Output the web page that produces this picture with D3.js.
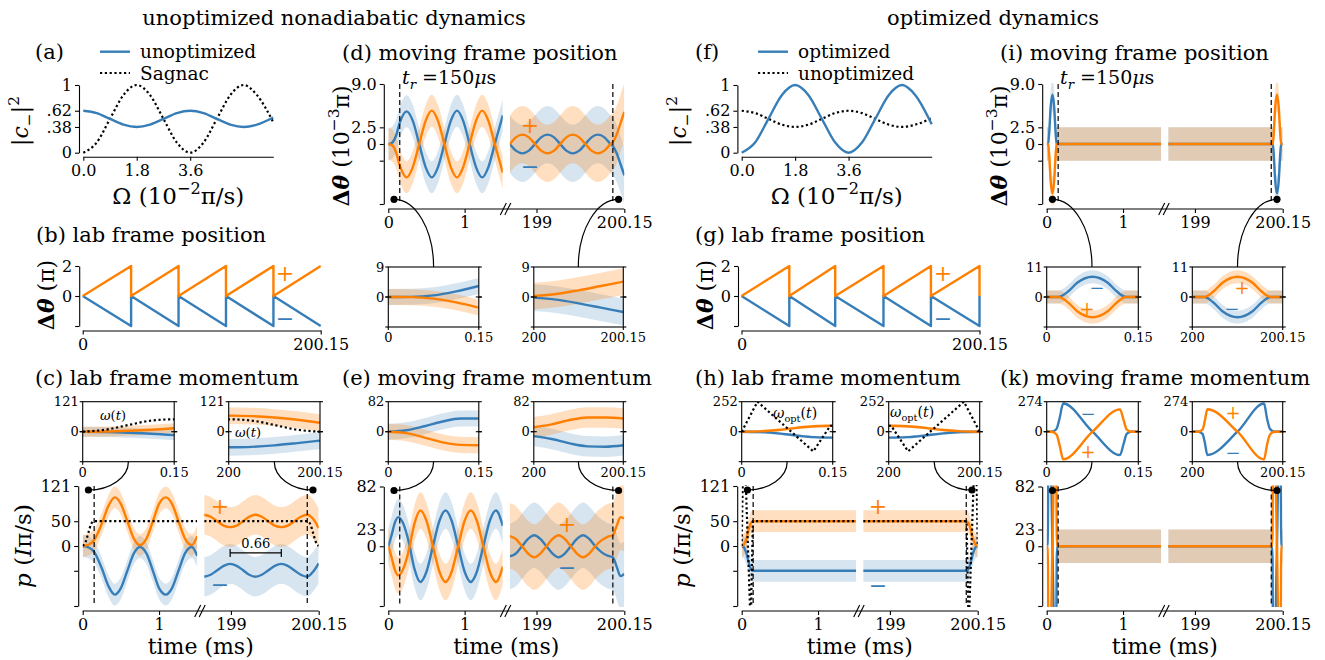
<!DOCTYPE html>
<html><head><meta charset="utf-8">
<script src="https://cdn.jsdelivr.net/npm/d3@7"></script>
<style>body{margin:0;background:#fff}svg{display:block}</style>
</head><body><script>
// ================= DATA =================
// (a) and (f): |c_-|^2 versus Omega (10^-2 pi/s)
const omegaGrid = [0,0.45,0.9,1.35,1.8,2.25,2.7,3.15,3.6,4.05,4.5,4.95,5.4,5.85,6.4];
const unoptA = [0.62,0.585,0.5,0.415,0.38,0.415,0.5,0.585,0.62,0.585,0.5,0.415,0.38,0.415,0.52];
const sagnacA = [0,0.15,0.5,0.85,1,0.85,0.5,0.15,0,0.15,0.5,0.85,1,0.85,0.45];
const optF = [0,0.15,0.5,0.85,1,0.85,0.5,0.15,0,0.15,0.5,0.85,1,0.85,0.42];
const unoptF = [0.62,0.585,0.5,0.415,0.38,0.415,0.5,0.585,0.62,0.585,0.5,0.415,0.38,0.415,0.51];
const omegaTicks = [0,1.8,3.6], omegaTickLabels = ["0.0","1.8","3.6"];
const probTicks = [1,0.62,0.38,0], probTickLabels = ["1",".62",".38","0"];

// (b) and (g): lab frame position (pi)
const labT = [0,40.7,40.7,80.6,80.6,120.5,120.5,160.4,160.4,200.15];
const labPlus = [0,2,0,2,0,2,0,2,0,2];
const labMinus = [0,-2,0,-2,0,-2,0,-2,0,-2];
const labTG = [0,40.2,40.2,78.8,78.8,119.4,119.4,159.3,159.3,200.15,200.15];
const labPlusG = [0,2,0,2,0,2,0,2,0,2,0];
const labMinusG = [0,-2,0,-2,0,-2,0,-2,0,-2,0];
const labTicks = [0,200.15], labTickLabels = ["0","200.15"];
const labYTicks = [2,0,-2], labYTickLabels = ["2","0",""];

// broken time axis (ms)
const mainTicksL = [0,1], mainTickLabelsL = ["0","1"];
const mainTicksR = [199,200.15], mainTickLabelsR = ["199","200.15"];

// (c) lab frame momentum (I pi/s)
const tC_L = [0,0.08,0.15,0.25,0.335,0.42,0.5,0.585,0.67,0.75,0.835,0.92,1.0,1.09,1.17,1.255,1.34,1.43,1.5];
const plusC_L = [0,3,12,45,80,98,85,50,15,2,15,50,85,98,85,50,15,2,20];
const minusC_L = [0,-3,-12,-45,-80,-98,-85,-50,-15,-2,-15,-50,-85,-98,-85,-50,-15,-2,-20];
const tC_R = [198.65,198.735,198.82,198.905,198.99,199.075,199.16,199.24,199.32,199.405,199.49,199.575,199.66,199.745,199.83,199.915,200.0,200.075,200.15];
const plusC_R = [63,59,50,41,38,41,50,59,63,59,50,41,38,41,50,59,63,55,36];
const minusC_R = [-62,-58,-49,-40,-36,-40,-49,-58,-62,-58,-49,-40,-36,-40,-49,-58,-62,-52,-35];
const tOmegaC_L = [0,0.0375,0.075,0.1125,0.15,1.5], omegaC_L = [0,8,27,45,50,50];
const tOmegaC_R = [198.65,200,200.0375,200.075,200.1125,200.15], omegaC_R = [50,50,45,27,8,0];
const spreadC = [22,40];
const tCin_L = [0,0.0375,0.075,0.1125,0.15], plusCin_L = [0,1,4,8,14], minusCin_L = [0,-1,-4,-8,-14];
const tCin_R = [200,200.0375,200.075,200.1125,200.15], plusCin_R = [65,63,57,48,36], minusCin_R = [-63,-61,-55,-46,-36];
const spreadCin = [20,34];
const momTicks = [121,50,0,-50,-121], momTickLabels = ["121","50","0","",""];

// (d) moving frame position (10^-3 pi)
const tD_L = [0,0.05,0.1,0.15,0.24,0.32,0.405,0.49,0.57,0.65,0.735,0.82,0.9,0.98,1.065,1.15,1.23,1.31,1.395,1.5];
const minusD_L = [0,0.2,1.2,3.2,4.9,3.5,0,-3.5,-5,-3.5,0,3.5,5,3.5,0,-3.5,-5,-3.5,0,4.3];
const plusD_L = [0,-0.2,-1.2,-3.2,-5.0,-3.5,0,3.5,5,3.5,0,-3.5,-5,-3.5,0,3.5,5,3.5,0,-4.3];
const tD_R = [198.65,198.73,198.815,198.9,198.98,199.06,199.145,199.23,199.31,199.39,199.475,199.56,199.64,199.72,199.805,199.89,199.97,200.0,200.05,200.1,200.15];
const plusD_R = [0,1.0,1.4,1.0,0,-1.0,-1.4,-1.0,0,1.0,1.4,1.0,0,-1.0,-1.4,-1.0,0,0.3,1.4,3.1,4.8];
const minusD_R = [0,-1.0,-1.4,-1.0,0,1.0,1.4,1.0,0,-1.0,-1.4,-1.0,0,1.0,1.4,1.0,0,-0.3,-1.4,-3.0,-4.7];
const spreadD = [2.4,4.3];
const tDin_L = [0,0.0375,0.075,0.1125,0.15], plusDin_L = [0,-0.05,-0.5,-1.6,-3.2], minusDin_L = [0,0.05,0.5,1.7,3.3];
const tDin_R = [200,200.0375,200.075,200.1125,200.15], plusDin_R = [0.3,0.9,2.0,3.3,4.6], minusDin_R = [-0.2,-0.8,-1.9,-3.2,-4.5];
const spreadDin = [2.4,4.0];
const posTicks = [9,2.5,0,-2.5,-9], posTickLabels = ["9.0","2.5","0","",""];

// (e) moving frame momentum
const tE_L = [0,0.04,0.085,0.13,0.2,0.27,0.34,0.42,0.5,0.585,0.67,0.75,0.83,0.915,1.0,1.08,1.16,1.245,1.33,1.41,1.5];
const minusE_L = [0,14,32,40,30,5,-30,-49,-35,0,35,49,35,0,-35,-49,-35,0,35,49,28];
const plusE_L = [0,-14,-32,-40,-30,-5,30,49,35,0,-35,-49,-35,0,35,49,35,0,-35,-49,-28];
const tE_R = [198.65,198.73,198.81,198.89,198.97,199.05,199.13,199.21,199.29,199.37,199.45,199.53,199.61,199.69,199.77,199.85,199.93,200.0,200.05,200.1,200.15];
const minusE_R = [-14,-10,0,10,15,10,0,-10,-15,-10,0,10,15,10,0,-8,-13,-15,-28,-41,-38];
const plusE_R = [14,10,0,-10,-15,-10,0,10,15,10,0,-10,-15,-10,0,8,13,15,28,40,38];
const spreadE = [25,45];
const tEin_L = [0,0.03,0.06,0.09,0.12,0.15], minusEin_L = [0,4,15,28,36,36], plusEin_L = [0,-4,-16,-29,-36,-37];
const tEin_R = [200,200.03,200.06,200.09,200.12,200.15], plusEin_R = [12,20,32,39,39,36], minusEin_R = [-12,-20,-32,-40,-41,-37];
const spreadEin = [22,28];
const vmomTicks = [82,23,0,-23,-82], vmomTickLabels = ["82","23","0","",""];

// (h) optimized lab frame momentum
const tHin_L = [0,0.03,0.06,0.09,0.12,0.15], plusHin_L = [0,3,14,32,46,50], minusHin_L = [0,-3,-14,-32,-46,-50];
const tHin_R = [200,200.03,200.06,200.09,200.12,200.15], plusHin_R = [50,46,32,14,3,0], minusHin_R = [-50,-46,-32,-14,-3,0];
const tOmegaH_L = [0,0.026,0.118,0.146,0.15], omegaH_L = [0,252,-165,50,50];
const tOmegaH_R = [200,200.004,200.032,200.124,200.15], omegaH_R = [50,50,-165,252,0];
const plateauH = [50,-50];
const spreadH = [22,22], spreadHin = [12,12];

// (i) optimized moving frame position
const tIin_L = [0,0.019,0.035,0.05,0.075,0.1,0.115,0.13,0.15];
const minusIin_L = [0,0,2,5.2,7.4,5.2,2,0,0], plusIin_L = [0,0,-2,-5.2,-7.4,-5.2,-2,0,0];
const tIin_R = [200,200.02,200.035,200.05,200.075,200.1,200.115,200.13,200.15];
const plusIin_R = [0,0,2,5.2,7.4,5.2,2,0,0], minusIin_R = [0,0,-2,-5.2,-7.4,-5.2,-2,0,0];
const plateauI = [0,0];
const spreadI = [2.5,2.5];

// (k) optimized moving frame momentum
const tKin_L = [0,0.008,0.016,0.021,0.027,0.075,0.12,0.126,0.131,0.138,0.15];
const minusKin_L = [0,0,25,120,257,0,-213,-110,-20,0,0];
const plusKin_L = [0,0,-25,-120,-252,0,204,105,20,0,0];
const tKin_R = [200,200.01,200.017,200.021,200.025,200.075,200.119,200.124,200.129,200.137,200.15];
const plusKin_R = [0,0,20,105,205,0,-252,-120,-25,0,0];
const minusKin_R = [0,0,-20,-105,-213,0,257,120,25,0,0];
const plateauK = [0,0];
const spreadK = [23,23], spreadKin = [10,10];

// ================= DRAWING =================
const BLUE = "#377eb8", ORANGE = "#ff7f00";
const FONT = "DejaVu Serif";
const svg = d3.select("body").append("svg").attr("width",1325).attr("height",660).attr("font-family",FONT);
svg.append("rect").attr("width",1325).attr("height",660).attr("fill","#fff");
const pairs = (t,v) => t.map((d,i)=>[d,v[i]]);
let clipN = 0;
function clip(x,y,w,h){const id="clp"+(clipN++);svg.append("clipPath").attr("id",id).append("rect").attr("x",x).attr("y",y).attr("width",w).attr("height",h);return `url(#${id})`;}

function drawSeries(g,xs,y,list){
  list.forEach(s=>{ if(s.spread>0){
    g.append("path").attr("d",d3.area().curve(s.curve||d3.curveMonotoneX).x(d=>xs(d[0])).y0(d=>y(d[1]-s.spread)).y1(d=>y(d[1]+s.spread))(s.data))
     .attr("fill",s.color).attr("fill-opacity",s.color===BLUE?0.2:0.25);
  }});
  list.forEach(s=>{
    g.append("path").attr("d",d3.line().curve(s.curve||d3.curveMonotoneX).x(d=>xs(d[0])).y(d=>y(d[1]))(s.data))
     .attr("fill","none").attr("stroke",s.dotted?"#000":s.color).attr("stroke-width",s.dotted?2.2:2.4)
     .attr("stroke-dasharray",s.dotted?"2.2,2.6":null).attr("stroke-linejoin","round");
  });
}
function styleAxis(g,size){
  g.attr("font-family",null).attr("font-size",null);
  g.selectAll("text").attr("font-family",FONT).attr("font-size",size).attr("fill","#000");
  g.selectAll("line,path").attr("stroke","#000").attr("stroke-width",1.1);
}
function leftAxis(x,y,ticks,labels,size){
  const g=svg.append("g").attr("transform",`translate(${x},0)`)
    .call(d3.axisLeft(y).tickValues(ticks).tickFormat((d,i)=>labels[i]).tickSize(4).tickSizeOuter(0).tickPadding(3));
  styleAxis(g,size);
}
function bottomAxis(yPos,x,ticks,labels,size,domain){
  const g=svg.append("g").attr("transform",`translate(0,${yPos})`)
    .call(d3.axisBottom(x).tickValues(ticks).tickFormat((d,i)=>labels[i]).tickSize(4).tickSizeOuter(0).tickPadding(4));
  styleAxis(g,size);
  if(!domain) g.select(".domain").remove();
}
function rich(t,parts,size){
  let cur=0;
  parts.forEach(p=>{
    const small=p.sub||p.sup;
    const target=p.sub?size*0.25:(p.sup?-size*0.42:0);
    const ts=t.append("tspan").attr("font-size",small?size*0.7:size).text(p.s);
    if(target!==cur){ts.attr("dy",target-cur);cur=target;}
    if(p.it) ts.attr("font-style","italic");
    if(p.b) ts.attr("font-weight","bold");
  });
  return t;
}
function text(x,y,str,size,anchor,color){
  return svg.append("text").attr("x",x).attr("y",y).attr("font-size",size).attr("text-anchor",anchor||"start").attr("fill",color||"#000").text(str);
}
function ylabel(cx,cy,size,parts){
  const t=svg.append("text").attr("transform",`translate(${cx},${cy}) rotate(-90)`).attr("text-anchor","middle").attr("font-size",size).attr("dy","0.35em");
  rich(t,parts,size);
}
function sign(x,y,s,color,size){ text(x,y,s,size||22,"middle",color).attr("dominant-baseline","central"); }
function connector(p,q){
  const c1=[p[0]+0.55*(q[0]-p[0]),p[1]], c2=[q[0],q[1]-0.55*(q[1]-p[1])];
  svg.append("path").attr("d",`M${p[0]},${p[1]}C${c1[0]},${c1[1]} ${c2[0]},${c2[1]} ${q[0]},${q[1]}`).attr("fill","none").attr("stroke","#000").attr("stroke-width",1.2);
}

// ---- (a)/(f) spectrum panels
function spectrumPanel(x0,solid,dotted){
  const x=d3.scaleLinear().domain([0,6.4]).range([x0,x0+190]);
  const y=d3.scaleLinear().domain([0,1]).range([152.7,85]);
  const g=svg.append("g");
  drawSeries(g,x,y,[{data:pairs(omegaGrid,dotted),dotted:true,spread:0},{data:pairs(omegaGrid,solid),color:BLUE,spread:0}]);
  leftAxis(x0-4.3,y,probTicks,probTickLabels,16);
  bottomAxis(156.7,x,omegaTicks,omegaTickLabels,16,true);
  const t=svg.append("text").attr("x",x0+95).attr("y",204).attr("text-anchor","middle").attr("font-size",23);
  rich(t,[{s:"Ω (10"},{s:"−2",sup:true},{s:"π/s)"}],23);
  ylabel(x0-63,121,22,[{s:"|"},{s:"c",it:true},{s:"−",sub:true},{s:"|"},{s:"2",sup:true}]);
}
// ---- (b)/(g) lab frame position
function labPanel(x0,t,plus,minus){
  const x=d3.scaleLinear().domain([0,200.15]).range([x0,x0+238]);
  const y=d3.scaleLinear().domain([-2,2]).range([326,266]);
  const g=svg.append("g");
  drawSeries(g,x,y,[{data:pairs(t,minus),color:BLUE,spread:0,curve:d3.curveLinear},{data:pairs(t,plus),color:ORANGE,spread:0,curve:d3.curveLinear}]);
  leftAxis(x0-3.5,y,labYTicks,labYTickLabels,16);
  bottomAxis(330.5,x,labTicks,labTickLabels,16,true);
  ylabel(x0-36,295,22,[{s:"Δ",b:true},{s:"θ",it:true,b:true},{s:" (π)"}]);
}
// ---- broken-axis main panel
function brokenPanel(o){
  const xL=d3.scaleLinear().domain([0,1.5]).range([o.x0,o.x0+114.5]);
  const xR=d3.scaleLinear().domain([198.65,200.15]).range([o.x0+121.5,o.x0+236]);
  const y=d3.scaleLinear().domain(o.yDom).range([o.yBot,o.yTop]);
  [[xL,"L"],[xR,"R"]].forEach(([xs,k])=>{
    const r=xs.range();
    const g=svg.append("g").attr("clip-path",clip(r[0],o.yTop-1,r[1]-r[0],o.yBot-o.yTop+2));
    drawSeries(g,xs,y,o.series.map(s=>({data:s[k],color:s.color,spread:s.spread?s.spread[k==="L"?0:1]:0,dotted:s.dotted,curve:s.curve})));
  });
  [[xL,0.15],[xR,200]].forEach(([xs,tt])=>{
    svg.append("line").attr("x1",xs(tt)).attr("x2",xs(tt)).attr("y1",o.yTop).attr("y2",o.yBot)
      .attr("stroke","#000").attr("stroke-width",1.2).attr("stroke-dasharray","5,3");
  });
  leftAxis(o.x0-4.5,y,o.yTicks,o.yTickLabels,16);
  const ya=o.yBot+5;
  bottomAxis(ya,xL,mainTicksL,mainTickLabelsL,16,false);
  bottomAxis(ya,xR,mainTicksR,mainTickLabelsR,16,false);
  svg.append("line").attr("x1",o.x0).attr("x2",o.x0+236).attr("y1",ya).attr("y2",ya).attr("stroke","#000").attr("stroke-width",1.1);
  const cx=o.x0+118;
  [-3,1.5].forEach(d=>svg.append("line").attr("x1",cx+d-3).attr("y1",ya+6).attr("x2",cx+d+3).attr("y2",ya-6).attr("stroke","#000").attr("stroke-width",1.1));
  const dy=o.dotsBottom?o.yBot-4.7:o.yTop+4;
  const dL=[xL(0.075),dy], dR=[xR(200.075),dy];
  connector(dL,o.inL); connector(dR,o.inR);
  [dL,dR].forEach(p=>svg.append("circle").attr("cx",p[0]).attr("cy",p[1]).attr("r",3.6).attr("fill","#000"));
  if(o.xlabel){
    text(o.x0+118,654,"time (ms)",22,"middle");
  }
  return {xL,xR,y};
}
// ---- inset panel
function insetPanel(o){
  const x=d3.scaleLinear().domain(o.tDom).range([o.x0,o.x1]);
  const y=d3.scaleLinear().domain([-o.yMax,o.yMax]).range([o.yBot,o.yTop]);
  const g=svg.append("g").attr("clip-path",clip(o.x0,o.yTop,o.x1-o.x0,o.yBot-o.yTop));
  drawSeries(g,x,y,o.series);
  svg.append("rect").attr("x",o.x0).attr("y",o.yTop).attr("width",o.x1-o.x0).attr("height",o.yBot-o.yTop).attr("fill","none").attr("stroke","#000").attr("stroke-width",1.1);
  const tk=(x1,y1,x2,y2)=>svg.append("line").attr("x1",x1).attr("y1",y1).attr("x2",x2).attr("y2",y2).attr("stroke","#000").attr("stroke-width",1.1);
  [o.yTop,y(0),o.yBot].forEach(v=>{tk(o.x0-3,v,o.x0,v);tk(o.x1,v,o.x1+3,v);});
  tk(o.x0-3,y(0),o.x0+3,y(0)); tk(o.x1-3,y(0),o.x1+3,y(0));
  [o.x0,o.x1].forEach(v=>tk(v,o.yBot,v,o.yBot+3));
  text(o.x0-4,o.yTop+4.5,o.yTopLabel,13,"end");
  text(o.x0-4,y(0)+4.5,"0",13,"end");
  text(o.x0,o.yBot+15,o.xLabels[0],13,"middle");
  text(o.x1,o.yBot+15,o.xLabels[1],13,"middle");
}
const sL = (t,v,color,spread)=>({data:pairs(t,v),color,spread});

// ---------- headers ----------
text(334,25,"unoptimized nonadiabatic dynamics",21,"middle");
text(993,25,"optimized dynamics",21,"middle");

// ---------- (a) ----------
spectrumPanel(83.3,unoptA,sagnacA);
text(35,59,"(a)",21);
svg.append("line").attr("x1",100).attr("x2",130).attr("y1",51.7).attr("y2",51.7).attr("stroke",BLUE).attr("stroke-width",2.4);
svg.append("line").attr("x1",100).attr("x2",130).attr("y1",73).attr("y2",73).attr("stroke","#000").attr("stroke-width",2.2).attr("stroke-dasharray","2.2,2.6");
text(140,58,"unoptimized",18.5);
text(140,80,"Sagnac",18.5);

// ---------- (f) ----------
spectrumPanel(741.7,optF,unoptF);
text(695,59,"(f)",21);
svg.append("line").attr("x1",758).attr("x2",788).attr("y1",51.7).attr("y2",51.7).attr("stroke",BLUE).attr("stroke-width",2.4);
svg.append("line").attr("x1",758).attr("x2",788).attr("y1",73).attr("y2",73).attr("stroke","#000").attr("stroke-width",2.2).attr("stroke-dasharray","2.2,2.6");
text(798,58,"optimized",18.5);
text(798,80,"unoptimized",18.5);

// ---------- (b),(g) ----------
text(36,242,"(b) lab frame position",21);
labPanel(82.7,labT,labPlus,labMinus);
sign(285,273,"+",ORANGE); sign(285,318,"−",BLUE);
text(695,242,"(g) lab frame position",21);
labPanel(741.5,labTG,labPlusG,labMinusG);
sign(943,273,"+",ORANGE); sign(943,318,"−",BLUE);

// ---------- (c) ----------
text(35,385,"(c) lab frame momentum",21);
insetPanel({x0:82.7,x1:174.2,yTop:401.7,yBot:461.7,tDom:[0,0.15],yMax:121,yTopLabel:"121",xLabels:["0","0.15"],
  series:[sL(tCin_L,minusCin_L,BLUE,spreadCin[0]),sL(tCin_L,plusCin_L,ORANGE,spreadCin[0]),{data:pairs(tOmegaC_L,omegaC_L),dotted:true,spread:0}]});
insetPanel({x0:228.7,x1:320,yTop:401.7,yBot:461.7,tDom:[200,200.15],yMax:121,yTopLabel:"121",xLabels:["200","200.15"],
  series:[sL(tCin_R,minusCin_R,BLUE,spreadCin[1]),sL(tCin_R,plusCin_R,ORANGE,spreadCin[1]),{data:pairs(tOmegaC_R,omegaC_R),dotted:true,spread:0}]});
rich(svg.append("text").attr("x",100).attr("y",420).attr("font-size",13),[{s:"ω",it:true},{s:"("},{s:"t",it:true},{s:")"}],13);
rich(svg.append("text").attr("x",235).attr("y",437).attr("font-size",13),[{s:"ω",it:true},{s:"("},{s:"t",it:true},{s:")"}],13);
const pc=brokenPanel({x0:82.7,yTop:486,yBot:606,yDom:[-121,121],yTicks:momTicks,yTickLabels:momTickLabels,xlabel:true,
  inL:[128.4,461.7],inR:[274.3,461.7],
  series:[{L:pairs(tC_L,minusC_L),R:pairs(tC_R,minusC_R),color:BLUE,spread:spreadC},
          {L:pairs(tC_L,plusC_L),R:pairs(tC_R,plusC_R),color:ORANGE,spread:spreadC},
          {L:pairs(tOmegaC_L,omegaC_L),R:pairs(tOmegaC_R,omegaC_R),dotted:true}]});
ylabel(23,546,23,[{s:"p",it:true},{s:" ("},{s:"I",it:true},{s:"π/s)"}]);
sign(220,506,"+",ORANGE); sign(220,584,"−",BLUE);
// 0.66 bracket
{const a=pc.xR(198.99),b=pc.xR(199.66),yy=pc.y(-14);
 svg.append("path").attr("d",`M${a},${yy-4}V${yy+4}M${a},${yy}H${b}M${b},${yy-4}V${yy+4}`).attr("stroke","#000").attr("stroke-width",1.2).attr("fill","none");
 text((a+b)/2,yy-5,"0.66",13,"middle");}

// ---------- (d) ----------
text(342,60,"(d) moving frame position",21);
brokenPanel({x0:388.3,yTop:84,yBot:204,yDom:[-9,9],yTicks:posTicks,yTickLabels:posTickLabels,dotsBottom:true,
  inL:[433.6,267],inR:[578.3,267],
  series:[{L:pairs(tD_L,minusD_L),R:pairs(tD_R,minusD_R),color:BLUE,spread:spreadD},
          {L:pairs(tD_L,plusD_L),R:pairs(tD_R,plusD_R),color:ORANGE,spread:spreadD}]});
rich(svg.append("text").attr("x",402).attr("y",84).attr("font-size",19),[{s:"t",it:true},{s:"r",it:true,sub:true},{s:" =150"},{s:"μ",it:true},{s:"s"}],19);
ylabel(341,146,22,[{s:"Δ",b:true},{s:"θ",it:true,b:true},{s:" (10"},{s:"−3",sup:true},{s:"π)"}]);
sign(530,125,"+",ORANGE); sign(530,166,"−",BLUE);
insetPanel({x0:388.3,x1:478.8,yTop:267,yBot:327,tDom:[0,0.15],yMax:9,yTopLabel:"9",xLabels:["0","0.15"],
  series:[sL(tDin_L,minusDin_L,BLUE,spreadDin[0]),sL(tDin_L,plusDin_L,ORANGE,spreadDin[0])]});
insetPanel({x0:533.8,x1:623.3,yTop:267,yBot:327,tDom:[200,200.15],yMax:9,yTopLabel:"9",xLabels:["200","200.15"],
  series:[sL(tDin_R,minusDin_R,BLUE,spreadDin[1]),sL(tDin_R,plusDin_R,ORANGE,spreadDin[1])]});

// ---------- (e) ----------
text(342,385,"(e) moving frame momentum",21);
insetPanel({x0:388.3,x1:478.8,yTop:401.7,yBot:461.7,tDom:[0,0.15],yMax:82,yTopLabel:"82",xLabels:["0","0.15"],
  series:[sL(tEin_L,minusEin_L,BLUE,spreadEin[0]),sL(tEin_L,plusEin_L,ORANGE,spreadEin[0])]});
insetPanel({x0:533.8,x1:623.3,yTop:401.7,yBot:461.7,tDom:[200,200.15],yMax:82,yTopLabel:"82",xLabels:["200","200.15"],
  series:[sL(tEin_R,minusEin_R,BLUE,spreadEin[1]),sL(tEin_R,plusEin_R,ORANGE,spreadEin[1])]});
brokenPanel({x0:388.3,yTop:486.5,yBot:606,yDom:[-82,82],yTicks:vmomTicks,yTickLabels:vmomTickLabels,xlabel:true,
  inL:[433.6,461.7],inR:[578.3,461.7],
  series:[{L:pairs(tE_L,minusE_L),R:pairs(tE_R,minusE_R),color:BLUE,spread:spreadE},
          {L:pairs(tE_L,plusE_L),R:pairs(tE_R,plusE_R),color:ORANGE,spread:spreadE}]});
sign(567,524,"+",ORANGE); sign(567,567,"−",BLUE);

// ---------- (h) ----------
text(695,385,"(h) lab frame momentum",21);
insetPanel({x0:741.7,x1:832.7,yTop:401.7,yBot:461.7,tDom:[0,0.15],yMax:252,yTopLabel:"252",xLabels:["0","0.15"],
  series:[sL(tHin_L,minusHin_L,BLUE,spreadHin[0]),sL(tHin_L,plusHin_L,ORANGE,spreadHin[0]),{data:pairs(tOmegaH_L,omegaH_L),dotted:true,spread:0,curve:d3.curveLinear}]});
insetPanel({x0:888.7,x1:979.7,yTop:401.7,yBot:461.7,tDom:[200,200.15],yMax:252,yTopLabel:"252",xLabels:["200","200.15"],
  series:[sL(tHin_R,minusHin_R,BLUE,spreadHin[1]),sL(tHin_R,plusHin_R,ORANGE,spreadHin[1]),{data:pairs(tOmegaH_R,omegaH_R),dotted:true,spread:0,curve:d3.curveLinear}]});
rich(svg.append("text").attr("x",773).attr("y",418).attr("font-size",14),[{s:"ω",it:true},{s:"opt",sub:true},{s:"("},{s:"t",it:true},{s:")"}],14);
rich(svg.append("text").attr("x",890).attr("y",417).attr("font-size",14),[{s:"ω",it:true},{s:"opt",sub:true},{s:"("},{s:"t",it:true},{s:")"}],14);
brokenPanel({x0:741.7,yTop:486,yBot:606,yDom:[-121,121],yTicks:momTicks,yTickLabels:momTickLabels,xlabel:true,
  inL:[787.2,461.7],inR:[934.2,461.7],
  series:[{L:[...pairs(tHin_L,minusHin_L),[1.5,plateauH[1]]],R:[[198.65,plateauH[1]],...pairs(tHin_R,minusHin_R)],color:BLUE,spread:spreadH},
          {L:[...pairs(tHin_L,plusHin_L),[1.5,plateauH[0]]],R:[[198.65,plateauH[0]],...pairs(tHin_R,plusHin_R)],color:ORANGE,spread:spreadH},
          {L:[...pairs(tOmegaH_L,omegaH_L),[1.5,plateauH[0]]],R:[[198.65,plateauH[0]],...pairs(tOmegaH_R,omegaH_R)],dotted:true,curve:d3.curveLinear}]});
ylabel(682,546,23,[{s:"p",it:true},{s:" ("},{s:"I",it:true},{s:"π/s)"}]);
sign(878,506,"+",ORANGE); sign(878,585,"−",BLUE);

// ---------- (i) ----------
text(1000,60,"(i) moving frame position",21);
brokenPanel({x0:1046.7,yTop:84,yBot:204,yDom:[-9,9],yTicks:posTicks,yTickLabels:posTickLabels,dotsBottom:true,
  inL:[1092,267],inR:[1237.5,267],
  series:[{L:[...pairs(tIin_L,minusIin_L),[1.5,plateauI[1]]],R:[[198.65,plateauI[1]],...pairs(tIin_R,minusIin_R)],color:BLUE,spread:spreadI},
          {L:[...pairs(tIin_L,plusIin_L),[1.5,plateauI[0]]],R:[[198.65,plateauI[0]],...pairs(tIin_R,plusIin_R)],color:ORANGE,spread:spreadI}]});
rich(svg.append("text").attr("x",1060).attr("y",84).attr("font-size",19),[{s:"t",it:true},{s:"r",it:true,sub:true},{s:" =150"},{s:"μ",it:true},{s:"s"}],19);
ylabel(999,146,22,[{s:"Δ",b:true},{s:"θ",it:true,b:true},{s:" (10"},{s:"−3",sup:true},{s:"π)"}]);
insetPanel({x0:1046.7,x1:1138.3,yTop:267,yBot:327,tDom:[0,0.15],yMax:11,yTopLabel:"11",xLabels:["0","0.15"],
  series:[sL(tIin_L,minusIin_L,BLUE,2.4),sL(tIin_L,plusIin_L,ORANGE,2.4)]});
insetPanel({x0:1192.3,x1:1282.7,yTop:267,yBot:327,tDom:[200,200.15],yMax:11,yTopLabel:"11",xLabels:["200","200.15"],
  series:[sL(tIin_R,minusIin_R,BLUE,2.4),sL(tIin_R,plusIin_R,ORANGE,2.4)]});
sign(1097,287,"−",BLUE,18); sign(1087,308,"+",ORANGE,18);
sign(1242,287,"+",ORANGE,18); sign(1232,308,"−",BLUE,18);

// ---------- (k) ----------
text(1000,385,"(k) moving frame momentum",21);
insetPanel({x0:1046.7,x1:1138.3,yTop:401.7,yBot:461.7,tDom:[0,0.15],yMax:274,yTopLabel:"274",xLabels:["0","0.15"],
  series:[sL(tKin_L,minusKin_L,BLUE,spreadKin[0]),sL(tKin_L,plusKin_L,ORANGE,spreadKin[0])]});
insetPanel({x0:1192.3,x1:1282.7,yTop:401.7,yBot:461.7,tDom:[200,200.15],yMax:274,yTopLabel:"274",xLabels:["200","200.15"],
  series:[sL(tKin_R,minusKin_R,BLUE,spreadKin[1]),sL(tKin_R,plusKin_R,ORANGE,spreadKin[1])]});
sign(1088,413,"−",BLUE,18); sign(1088,451,"+",ORANGE,18);
sign(1233,412,"+",ORANGE,18); sign(1233,452,"−",BLUE,18);
brokenPanel({x0:1046.7,yTop:486.5,yBot:606,yDom:[-82,82],yTicks:vmomTicks,yTickLabels:vmomTickLabels,xlabel:true,
  inL:[1092,461.7],inR:[1237.5,461.7],
  series:[{L:[...pairs(tKin_L,minusKin_L),[1.5,plateauK[1]]],R:[[198.65,plateauK[1]],...pairs(tKin_R,minusKin_R)],color:BLUE,spread:spreadK},
          {L:[...pairs(tKin_L,plusKin_L),[1.5,plateauK[0]]],R:[[198.65,plateauK[0]],...pairs(tKin_R,plusKin_R)],color:ORANGE,spread:spreadK}]});
</script></body></html>
